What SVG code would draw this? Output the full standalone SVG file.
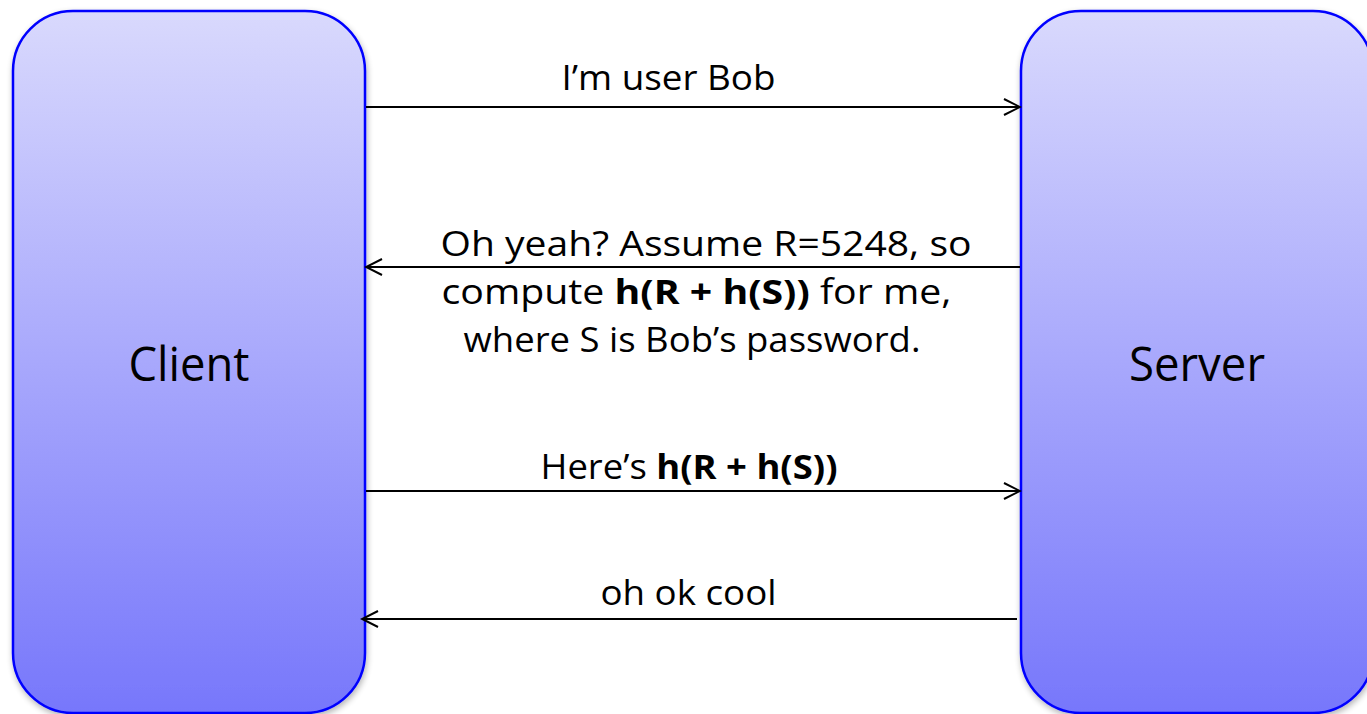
<svg xmlns="http://www.w3.org/2000/svg" width="1367" height="714" viewBox="0 0 1367 714">
<defs>
<linearGradient id="g" x1="0" y1="0" x2="0" y2="1">
<stop offset="0" stop-color="#d9d9fd"/>
<stop offset="1" stop-color="#7777fb"/>
</linearGradient>
<filter id="sh" x="-10%" y="-10%" width="120%" height="120%">
<feGaussianBlur in="SourceAlpha" stdDeviation="3"/>
<feOffset dx="1" dy="3"/>
<feComponentTransfer><feFuncA type="linear" slope="0.3"/></feComponentTransfer>
<feMerge><feMergeNode/><feMergeNode in="SourceGraphic"/></feMerge>
</filter>
<marker id="ah" viewBox="0 0 20 20" refX="18" refY="10" markerWidth="20" markerHeight="20" markerUnits="userSpaceOnUse" orient="auto">
<path d="M2,2 L18,10 L2,18" fill="none" stroke="#000" stroke-width="2"/>
</marker>
</defs>
<style>
.box{fill:url(#g);stroke:#0000ff;stroke-width:2.5;filter:url(#sh)}
.lbl{font-family:"Open Sans",Lato,sans-serif;fill:#000;text-anchor:middle}
.big{font-size:48px}
.msg{font-size:34px}
.conn line{stroke:#000;stroke-width:2;marker-end:url(#ah)}
.b{font-weight:bold}
</style>
<rect width="1367" height="714" fill="#fff"/>
<g id="client">
<rect class="box" x="13" y="11" width="352" height="702" rx="60" ry="60"/>
<text class="lbl big" x="189" y="381" textLength="121" lengthAdjust="spacingAndGlyphs">Client</text>
</g>
<g id="server">
<rect class="box" x="1021" y="11" width="352" height="702" rx="60" ry="60"/>
<text class="lbl big" x="1197" y="381" textLength="136" lengthAdjust="spacingAndGlyphs">Server</text>
</g>
<g class="conn">
<line x1="366" y1="107" x2="1020" y2="107"/>
<line x1="1020" y1="267" x2="366" y2="267"/>
<line x1="366" y1="491" x2="1020" y2="491"/>
<line x1="1017" y1="619" x2="362" y2="619"/>
</g>
<g id="labels">
<text class="lbl msg" x="668.5" y="90" textLength="214" lengthAdjust="spacingAndGlyphs">I’m user Bob</text>
<text class="lbl msg" x="706" y="256" textLength="531" lengthAdjust="spacingAndGlyphs">Oh yeah? Assume R=5248, so</text>
<text class="lbl msg" x="696.5" y="304" textLength="510" lengthAdjust="spacingAndGlyphs">compute <tspan class="b">h(R + h(S))</tspan> for me,</text>
<text class="lbl msg" x="692" y="352" textLength="457" lengthAdjust="spacingAndGlyphs">where S is Bob’s password.</text>
<text class="lbl msg" x="689" y="479" textLength="297" lengthAdjust="spacingAndGlyphs">Here’s <tspan class="b">h(R + h(S))</tspan></text>
<text class="lbl msg" x="688.5" y="605" textLength="176" lengthAdjust="spacingAndGlyphs">oh ok cool</text>
</g>
</svg>
